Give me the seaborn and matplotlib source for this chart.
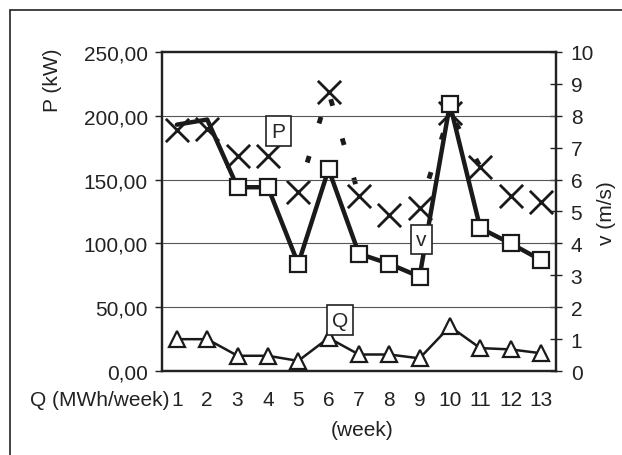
import pandas as pd
import seaborn as sns
import matplotlib.pyplot as plt
from matplotlib.patches import Rectangle

# Values
weeks = list(range(1, 14))
power_kw = [193, 197, 144, 144, 84, 158, 92, 84, 74, 209, 112, 100, 87]
wind_ms = [7.55, 7.6, 6.75, 6.75, 5.6, 8.75, 5.5, 4.9, 5.1, 8.1, 6.4, 5.5, 5.3]
q_mwh = [25, 25, 12, 12, 8, 26, 13, 13, 10, 35, 18, 17, 14]
p_ticks = [0, 50, 100, 150, 200, 250]
v_ticks = list(range(0, 11))

# wind segments drawn with the thick dashed line
dash_parts = [(4, 7), (8, 11)]

sns.set_style("white")
plt.rcParams['font.family'] = ['Liberation Sans', 'DejaVu Sans']
plt.rcParams['font.size'] = 15

df = pd.DataFrame({"week": weeks, "P": power_kw, "v": wind_ms, "Q": q_mwh})

fig = plt.figure(figsize=(6.22, 4.56), dpi=100)
fig.patch.set_facecolor("white")
ax = fig.add_axes([0.260, 0.184, 0.634, 0.700])
ax2 = ax.twinx()

# outer frame of the figure (runs off the right/bottom edge)
fig.patches.append(Rectangle((10 / 622, -0.1), 1.2, 1 - 11 / 456 + 0.1,
                             transform=fig.transFigure, fill=False,
                             edgecolor="#222222", linewidth=1.2))

for y in p_ticks[1:-1]:
    ax.axhline(y, color="#555555", linewidth=0.8, zorder=0)

# wind speed (right axis)
for a, b in dash_parts:
    part = df.iloc[a:b]
    sns.lineplot(data=part, x="week", y="v", ax=ax2, color="#1a1a1a",
                 linewidth=3.5, dashes=False, linestyle=(2, (1.4, 7)), zorder=1)
sns.scatterplot(data=df, x="week", y="v", ax=ax2, marker="x", s=280,
                color="#1a1a1a", linewidth=2.0, zorder=3)

# power and heat (left axis)
sns.lineplot(data=df, x="week", y="P", ax=ax, color="#1a1a1a", linewidth=3.2,
             marker="s", markersize=11, markerfacecolor="white",
             markeredgecolor="#1a1a1a", markeredgewidth=1.6,
             markevery=list(range(2, 13)), zorder=4)
sns.lineplot(data=df, x="week", y="Q", ax=ax, color="#1a1a1a", linewidth=1.8,
             marker="^", markersize=11, markerfacecolor="white",
             markeredgecolor="#1a1a1a", markeredgewidth=1.6, zorder=4)
ax.set_zorder(ax2.get_zorder() + 1)
ax.patch.set_visible(False)

ax.set_xlim(0.5, 13.5)
ax.set_ylim(0, 250)
ax2.set_ylim(0, 10)
ax.set_xticks([w + 0.5 for w in weeks[:-1]])
ax.set_xticklabels([])
ax.tick_params(axis="x", direction="in", length=4, width=1, color="#222222")
for w in weeks:
    ax.text(w, -22.5, str(w), ha="center", va="center", fontsize=15,
            transform=ax.transData, color="#222222")
ax.set_yticks(p_ticks)
ax.set_yticklabels([f"{t:.2f}".replace(".", ",") for t in p_ticks], color="#222222")
ax.tick_params(axis="y", direction="out", length=5, width=1, color="#222222", pad=5)
ax2.set_yticks(v_ticks)
ax2.set_yticklabels([str(t) for t in v_ticks], color="#222222")
ax2.tick_params(axis="y", direction="inout", length=9, width=1, color="#222222", pad=6)

ax.set_xlabel("")
ax.set_ylabel("")
ax2.set_ylabel("")
for a in (ax, ax2):
    for s in a.spines.values():
        s.set_color("#222222")
        s.set_linewidth(1.6)

fig.text(52 / 622, 1 - 80 / 456, "P (kW)", rotation=90, ha="center", va="center",
         fontsize=15, color="#222222")
fig.text(607 / 622, 1 - 213 / 456, "v (m/s)", rotation=90, ha="center", va="center",
         fontsize=15, color="#222222")
fig.text(169 / 622, 1 - 401 / 456, "Q (MWh/week)", ha="right", va="center",
         fontsize=15, color="#222222")
fig.text(362 / 622, 1 - 431 / 456, "(week)", ha="center", va="center",
         fontsize=15, color="#222222")

# series labels in boxes
box = dict(boxstyle="square,pad=0.25", facecolor="white", edgecolor="#222222", linewidth=1.2)
ax.text(4.35, 188, "P", ha="center", va="center", fontsize=15, bbox=box, zorder=6)
ax.text(9.05, 103, "v", ha="center", va="center", fontsize=15, bbox=box, zorder=6)
ax.text(6.38, 40, "Q", ha="center", va="center", fontsize=15, bbox=box, zorder=6)

fig.savefig("out.png", dpi=100)
